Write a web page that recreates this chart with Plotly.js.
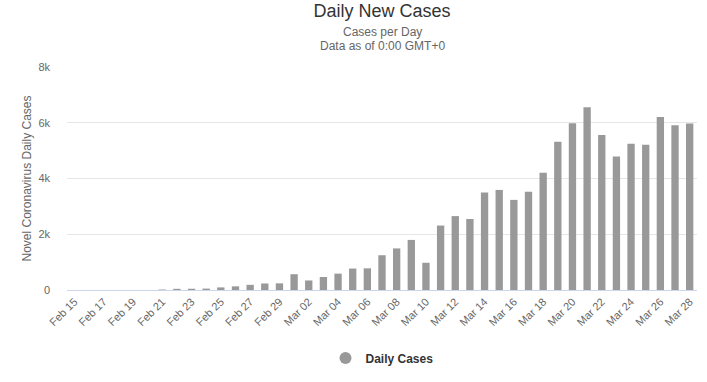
<!DOCTYPE html>
<html><head><meta charset="utf-8">
<script src="https://cdn.plot.ly/plotly-3.0.1.min.js"></script>
<style>html,body{margin:0;padding:0;background:#fff}#chart{width:707px;height:382px}</style>
</head><body><div id="chart"></div>
<script>
const dates = ["Feb 15","Feb 16","Feb 17","Feb 18","Feb 19","Feb 20","Feb 21","Feb 22","Feb 23","Feb 24","Feb 25","Feb 26","Feb 27","Feb 28","Feb 29",
"Mar 01","Mar 02","Mar 03","Mar 04","Mar 05","Mar 06","Mar 07","Mar 08","Mar 09","Mar 10","Mar 11","Mar 12","Mar 13","Mar 14","Mar 15","Mar 16","Mar 17","Mar 18","Mar 19","Mar 20","Mar 21","Mar 22","Mar 23","Mar 24","Mar 25","Mar 26","Mar 27","Mar 28"];
const dailyCases = [0,0,0,0,0,0,17,42,45,50,93,131,185,234,239,
566,342,466,587,769,778,1247,1492,1797,977,2313,2651,2547,3497,3590,3233,3526,4207,5322,5986,6557,5560,4789,5249,5210,6203,5909,5974];
const tickLabels = dates.filter((d,i)=>i%2===0);
const yTicks = [0,2000,4000,6000,8000];
const yTickText = ["0","2k","4k","6k","8k"];
const subtitleLines = ["Cases per Day","Data as of 0:00 GMT+0"];

const font = "Liberation Sans, Arial, sans-serif";
Plotly.newPlot("chart", [
  {type:"bar", x:dates, y:dailyCases, name:"Daily Cases", marker:{color:"#999999"}, showlegend:false, hoverinfo:"x+y"},
  {type:"scatter", mode:"markers", x:[null], y:[null], name:"Daily Cases", marker:{color:"#999999", size:12, symbol:"circle"}, showlegend:true}
], {
  width:707, height:382,
  margin:{l:67, r:10, t:67, b:89},
  paper_bgcolor:"#fff", plot_bgcolor:"#fff",
  font:{family:font, color:"#666", size:11},
  title:{text:"Daily New Cases", font:{family:font, size:18, color:"#333"}, x:0.5, xanchor:"center",
    xref:"paper", y:0.973, yanchor:"middle", yref:"container"},
  annotations:[
    {text:subtitleLines[0], xref:"paper", yref:"paper", x:0.5, y:1.159, xanchor:"center", yanchor:"middle", showarrow:false, font:{size:12, color:"#666"}},
    {text:subtitleLines[1], xref:"paper", yref:"paper", x:0.5, y:1.093, xanchor:"center", yanchor:"middle", showarrow:false, font:{size:12, color:"#666"}}
  ],
  bargap:0.5,
  xaxis:{type:"category", range:[-0.5,42.5], tickmode:"array", tickvals:tickLabels, ticktext:tickLabels, automargin:false,
    tickangle:-45, showgrid:false, showline:true, linecolor:"#ccd6eb", linewidth:1, ticks:"", zeroline:false,
    tickfont:{size:11, color:"#666"}, fixedrange:true},
  yaxis:{range:[0,8000], tickvals:yTicks, ticktext:yTickText, showgrid:true, gridcolor:"#e6e6e6", zeroline:false, automargin:false,
    showline:false, ticks:"", tickfont:{size:11, color:"#666"}, ticklabelstandoff:16,
    title:{text:"Novel Coronavirus Daily Cases", font:{size:12, color:"#666"}, standoff:4}},
  legend:{orientation:"h", x:0.5, xanchor:"center", y:-0.305, yanchor:"middle", font:{size:12, color:"#333", weight:"bold"}}
}, {displayModeBar:false, staticPlot:true});
</script></body></html>
